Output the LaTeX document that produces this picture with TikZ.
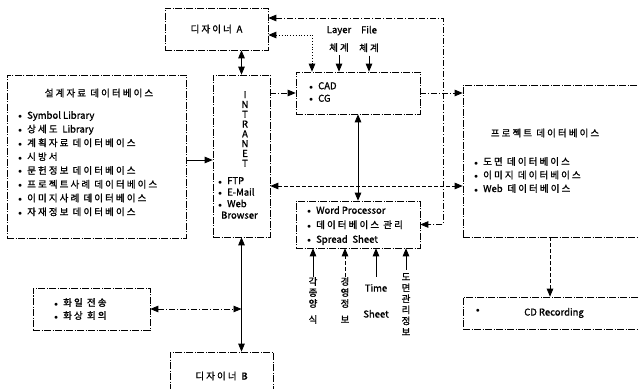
\documentclass[tikz,border=0pt]{standalone}
\usepackage{fontspec}
\setmainfont{Noto Sans CJK KR}[AutoFakeBold=1.2]
\newfontfamily\kr{Noto Sans CJK KR}[LetterSpace=22.0, AutoFakeBold=1.2]
\usetikzlibrary{arrows.meta, positioning}
\newcommand{\itm}{\makebox[9pt][l]{\scriptsize$\bullet$}}
\tikzset{
    box/.style={draw, rectangle, inner sep=0pt, line width=0.6pt, dash pattern=on 7pt off 1.5pt on 1pt off 1.5pt},
    itemlist/.style={align=left, inner sep=0pt, anchor=north west},
    vlabel/.style={align=center, inner sep=0pt, anchor=north},
    arrow/.style={line width=0.8pt, -{Triangle[length=8pt,width=6.5pt]}},
    dblarrow/.style={line width=0.8pt, {Triangle[length=8pt,width=6.5pt]}-{Triangle[length=8pt,width=6.5pt]}},
    dashdotline/.style={dash pattern=on 6pt off 2pt on 1pt off 2pt},
    dashline/.style={dash pattern=on 4pt off 2pt}
}

\begin{document}
\begin{tikzpicture}[x=1pt, y=1pt, font=\fontsize{9.5}{11}\selectfont\bfseries]
    \useasboundingbox (0,0) rectangle (639,388);
    \clip (0,0) rectangle (639,388);

    % -----------------------------------------------------------------
    % BOXES
    % -----------------------------------------------------------------
    \node[box, minimum width=103pt, minimum height=42pt] (desA) at (216.5,359) {{\kr 디자이너}\enskip A};
    \node[box, minimum width=57pt, minimum height=162pt] (intra) at (241.5,232) {};
    \node[box, minimum width=179pt, minimum height=163pt] (sdb) at (96.5,231.5) {};
    \node[box, minimum width=124pt, minimum height=42pt] (cad) at (358,295) {};
    \node[box, minimum width=187pt, minimum height=152pt] (pdb) at (556.5,227) {};
    \node[box, minimum width=124pt, minimum height=47pt] (word) at (358,163.5) {};
    \node[box, minimum width=187pt, minimum height=32pt] (cd) at (556.5,75) {};
    \node[box, minimum width=117pt, minimum height=42pt] (conf) at (91.5,79) {};
    \node[box, minimum width=103pt, minimum height=48pt] (desB) at (221.5,12) {{\kr 디자이너}\enskip B};

    % -----------------------------------------------------------------
    % BOX CONTENTS
    % -----------------------------------------------------------------
    \node (sdbtitle) at (99,295) {\kr 설계자료 데이터베이스};
    \node[itemlist, font=\fontsize{9.5}{13.8}\selectfont\bfseries] (sdblist) at (18,277) {%
        \itm Symbol Library\\
        \itm {\kr 상세도}\enskip Library\\
        \itm {\kr 계획자료 데이터베이스}\\
        \itm {\kr 시방서}\\
        \itm {\kr 문헌정보 데이터베이스}\\
        \itm {\kr 프로젝트사례 데이터베이스}\\
        \itm {\kr 이미지사례 데이터베이스}\\
        \itm {\kr 자재정보 데이터베이스}};

    \node[vlabel, font=\fontsize{9.5}{9.8}\selectfont\bfseries] (intraname) at (245,297) {I\\N\\T\\R\\A\\N\\E\\T};
    \node[itemlist, font=\fontsize{9.5}{11.5}\selectfont\bfseries] (intralist) at (218,211) {%
        \itm FTP\\
        \itm E-Mail\\
        \itm Web\\
        \hspace*{3pt}Browser};

    \node[itemlist, font=\fontsize{9.5}{12.5}\selectfont\bfseries] (cadlist) at (309,306) {%
        \itm CAD\\
        \itm CG};
    \node[align=center, font=\fontsize{9.5}{18}\selectfont\bfseries] (layer) at (339,349) {Layer\\{\kr 체계}};
    \node[align=center, font=\fontsize{9.5}{18}\selectfont\bfseries] (file) at (369,349) {File\\{\kr 체계}};

    \node (pdbtitle) at (545,255) {\kr 프로젝트 데이터베이스};
    \node[itemlist, font=\fontsize{9.5}{13.5}\selectfont\bfseries] (pdblist) at (474,231) {%
        \itm {\kr 도면 데이터베이스}\\
        \itm {\kr 이미지 데이터베이스}\\
        \itm Web\enskip{\kr 데이터베이스}};

    \node[itemlist, font=\fontsize{9.5}{14.5}\selectfont\bfseries] (wordlist) at (307,182) {%
        \itm Word Processor\\
        \itm {\kr 데이터베이스 관리}\\
        \itm Spread\enskip Sheet};

    \node[itemlist, font=\fontsize{9.5}{13}\selectfont\bfseries] (conflist) at (54,90) {%
        \itm {\kr 화일 전송}\\
        \itm {\kr 화상 회의}};

    \node (cddot) at (478,77) {\scriptsize$\bullet$};
    \node (cdname) at (554,75) {CD Recording};

    % -----------------------------------------------------------------
    % INPUT LABELS UNDER THE WORD PROCESSOR BOX
    % -----------------------------------------------------------------
    \node[vlabel, font=\fontsize{9.5}{11}\selectfont\bfseries] (form) at (313,111) {각\\종\\양\\[5pt]식};
    \node[vlabel, font=\fontsize{9.5}{11}\selectfont\bfseries] (mgmt) at (345,111) {경\\영\\정\\[5pt]보};
    \node[vlabel, font=\fontsize{9.5}{26}\selectfont\bfseries] (time) at (376,104) {Time\\Sheet};
    \node[vlabel, font=\fontsize{9.5}{11}\selectfont\bfseries] (dwg) at (406,115) {도\\면\\관\\리\\정\\보};

    % -----------------------------------------------------------------
    % CONNECTORS
    % -----------------------------------------------------------------
    \coordinate (rbend) at (443,370);

    \draw[dblarrow] (intra.north) -- (intra.north |- desA.south);
    \draw[arrow] (sdb.east |- 0,228) -- (intra.west |- 0,228);
    \draw[arrow, dashdotline] (intra.east |- cad.west) -- (cad.west);
    \draw[arrow, dashdotline] (cad.east) -- (cad.east -| pdb.west);
    \draw[dblarrow, dotted] ([yshift=-6pt]desA.east) -| ([xshift=-46pt]cad.north);
    \draw[dblarrow, dashdotline] ([yshift=11pt]desA.east) -- (rbend) |- (word.east);
    \draw[dblarrow, dashline] ([yshift=-30pt]intra.east) -- ([yshift=-30pt]intra.east -| pdb.west);
    \draw[dblarrow] (cad.south) -- (word.north);
    \draw[arrow, dashline] (pdb.south -| 550,0) -- (cd.north -| 550,0);
    \draw[dblarrow] (intra.south) -- (intra.south |- desB.north);
    \draw[dblarrow, dashdotline] (conf.east) -- (conf.east -| intra.south);

    \draw[arrow] (layer.south) -- (layer.south |- cad.north);
    \draw[arrow] (file.south) -- (file.south |- cad.north);

    \draw[arrow] (form.north) -- (form.north |- word.south);
    \draw[arrow, dashline] (mgmt.north) -- (mgmt.north |- word.south);
    \draw[arrow] ([yshift=7pt]time.north) -- (time.north |- word.south);
    \draw[arrow] ([yshift=3pt]dwg.north) -- (dwg.north |- word.south);

\end{tikzpicture}
\end{document}
